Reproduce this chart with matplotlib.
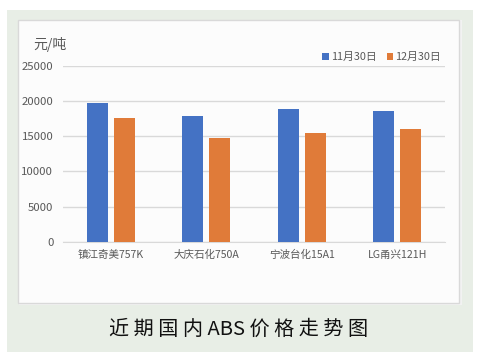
import matplotlib
matplotlib.use('Agg')
import matplotlib.pyplot as plt
import numpy as np
from matplotlib.patches import Rectangle

plt.rcParams['font.family'] = ['Noto Sans CJK SC', 'DejaVu Sans']

# 数据
categories = ['镇江奇美757K', '大庆石化750A', '宁波台化15A1', 'LG甬兴121H']
nov30 = [19750, 17850, 18850, 18650]
dec30 = [17650, 14800, 15500, 16100]
series_names = ['11月30日', '12月30日']
yticks = [0, 5000, 10000, 15000, 20000, 25000]

W, H = 481, 357
fig = plt.figure(figsize=(W / 100, H / 100), dpi=100)
fig.patch.set_facecolor('white')

# 绿色底框 + 白色图表区
fig.patches.append(Rectangle((7 / W, 1 - 352 / H), 466 / W, 342 / H,
                             transform=fig.transFigure, facecolor='#e8eee6',
                             edgecolor='none', zorder=0))
fig.patches.append(Rectangle((19 / W, 1 - 305 / H), 443 / W, 285 / H,
                             transform=fig.transFigure, facecolor='#f2f2f2',
                             edgecolor='none', zorder=0))
fig.patches.append(Rectangle((18 / W, 1 - 303 / H), 441 / W, 283 / H,
                             transform=fig.transFigure, facecolor='#fcfcfc',
                             edgecolor='#d9d9d9', linewidth=1, zorder=0))

ax = fig.add_axes([63 / W, 1 - 241.7 / H, 382 / W, 175.7 / H])
ax.set_facecolor('none')
ax.set_zorder(2)

x = np.arange(len(categories))
w = 0.22
ax.bar(x - 0.14, nov30, w, color='#4472c4', label=series_names[0], zorder=3)
ax.bar(x + 0.14, dec30, w, color='#e07b39', label=series_names[1], zorder=3)

ax.set_xlim(-0.5, 3.5)
ax.set_ylim(0, 25000)
ax.set_yticks(yticks)
ax.set_yticklabels([str(v) for v in yticks])
ax.set_xticks(x)
ax.set_xticklabels(categories)
ax.yaxis.grid(True, color='#d9d9d9', linewidth=1)
ax.set_axisbelow(True)
for s in ['top', 'right', 'left']:
    ax.spines[s].set_visible(False)
ax.spines['bottom'].set_color('#d9d9d9')
ax.tick_params(axis='both', length=0, colors='#595959')
ax.tick_params(axis='y', pad=7, labelsize=8.2)
ax.tick_params(axis='x', pad=6, labelsize=7.6)

fig.text(33 / W, 1 - 44 / H, '元/吨', fontsize=10, color='#595959', va='center')

leg = ax.legend(loc='center right', bbox_to_anchor=(441 / W, 1 - 57 / H),
                bbox_transform=fig.transFigure, ncol=2, frameon=False,
                fontsize=7.8, handlelength=0.6, handleheight=0.6,
                handletextpad=0.2, columnspacing=0.9, borderpad=0,
                borderaxespad=0)
for t in leg.get_texts():
    t.set_color('#595959')

fig.text(239 / W, 1 - 329 / H, '近 期 国 内 ABS 价 格 走 势 图', fontsize=14.5,
         color='#111111', ha='center', va='center')

fig.savefig('out.png', dpi=100)
